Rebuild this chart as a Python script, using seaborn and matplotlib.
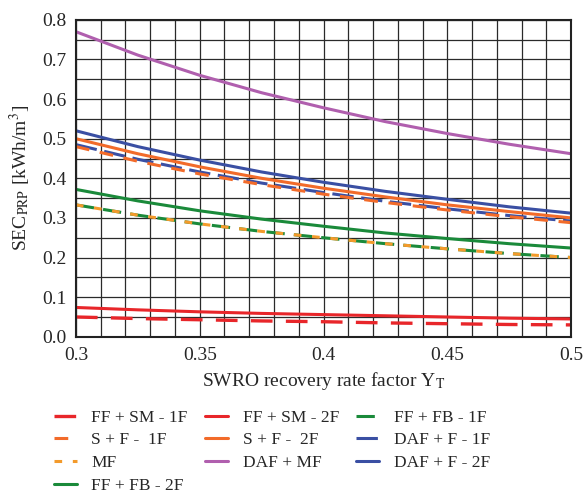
import matplotlib
matplotlib.use("Agg")
import matplotlib.pyplot as plt
import seaborn as sns
import pandas as pd
import numpy as np

x_vals = [0.30, 0.325, 0.35, 0.375, 0.40, 0.425, 0.45, 0.475, 0.50]

ff_sm_1f = [0.050, 0.046, 0.043, 0.040, 0.038, 0.035, 0.033, 0.031, 0.030]
ff_sm_2f = [0.074, 0.068, 0.063, 0.059, 0.056, 0.053, 0.050, 0.047, 0.045]
sf_1f = [0.480, 0.443, 0.411, 0.384, 0.360, 0.339, 0.320, 0.303, 0.288]
sf_2f = [0.500, 0.462, 0.429, 0.400, 0.375, 0.353, 0.333, 0.316, 0.300]
mf = [0.333, 0.307, 0.285, 0.266, 0.250, 0.235, 0.222, 0.210, 0.200]
daf_mf = [0.770, 0.711, 0.660, 0.616, 0.578, 0.543, 0.513, 0.486, 0.462]
ff_fb_1f = [0.333, 0.307, 0.285, 0.266, 0.250, 0.235, 0.222, 0.210, 0.200]
ff_fb_2f = [0.372, 0.343, 0.318, 0.297, 0.279, 0.262, 0.248, 0.235, 0.224]
daf_f_1f = [0.485, 0.448, 0.416, 0.388, 0.364, 0.342, 0.323, 0.306, 0.292]
daf_f_2f = [0.520, 0.480, 0.446, 0.416, 0.390, 0.367, 0.347, 0.328, 0.312]

labels = ["FF + SM - 1F", "S + F -  1F", "MF", "FF + FB - 2F",
          "FF + SM - 2F", "S + F -  2F", "DAF + MF",
          "FF + FB - 1F", "DAF + F - 1F", "DAF + F - 2F"]
series = [ff_sm_1f, sf_1f, mf, ff_fb_2f, ff_sm_2f, sf_2f, daf_mf, ff_fb_1f, daf_f_1f, daf_f_2f]

RED = "#e8262a"; ORG = "#f26b2a"; LOR = "#f39a2b"; GRN = "#1a8a3a"; BLU = "#3a4fa3"; PUR = "#b05fae"
styles = {
    "FF + SM - 1F": dict(color=RED, lw=2.4, dashes=(6.5, 4)),
    "FF + SM - 2F": dict(color=RED, lw=2.2, dashes=None),
    "S + F -  1F": dict(color=ORG, lw=2.2, dashes=(4.5, 3.5)),
    "S + F -  2F": dict(color=ORG, lw=2.2, dashes=None),
    "MF": dict(color=LOR, lw=2.2, dashes=(2.5, 3.5)),
    "DAF + MF": dict(color=PUR, lw=2.2, dashes=None),
    "FF + FB - 1F": dict(color=GRN, lw=2.2, dashes=(6, 3)),
    "FF + FB - 2F": dict(color=GRN, lw=2.2, dashes=None),
    "DAF + F - 1F": dict(color=BLU, lw=2.2, dashes=(7, 2.5)),
    "DAF + F - 2F": dict(color=BLU, lw=2.2, dashes=None),
}
draw_order = ["FF + SM - 2F", "FF + SM - 1F", "FF + FB - 2F", "FF + FB - 1F", "MF",
              "DAF + F - 2F", "S + F -  2F", "DAF + F - 1F", "S + F -  1F", "DAF + MF"]

rows = []
for lab, vals in zip(labels, series):
    for xv, yv in zip(x_vals, vals):
        rows.append(dict(x=xv, y=yv, series=lab))
df = pd.DataFrame(rows)

sns.set_style("white")
plt.rcParams["font.family"] = ["Liberation Serif", "DejaVu Serif"]
plt.rcParams["mathtext.fontset"] = "stix"

fig = plt.figure(figsize=(5.84, 4.96), dpi=100)
ax = fig.add_axes([0.130, 0.321, 0.848, 0.639])

# grid
ax.set_xticks(np.arange(0.30, 0.5001, 0.01), minor=True)
ax.set_yticks(np.arange(0.0, 0.8001, 0.05), minor=True)
ax.grid(which="minor", color="#2a2a2a", lw=0.9)
ax.grid(which="major", color="#2a2a2a", lw=0.9)
ax.set_axisbelow(True)

handles = {}
for lab in draw_order:
    st = styles[lab]
    sub = df[df["series"] == lab]
    sns.lineplot(data=sub, x="x", y="y", ax=ax, color=st["color"], lw=st["lw"],
                 estimator=None, sort=True, legend=False)
    line = ax.lines[-1]
    if st["dashes"] is not None:
        line.set_dashes(st["dashes"])
    handles[lab] = line

ax.set_xlim(0.3, 0.5)
ax.set_ylim(0.0, 0.8)
ax.set_xticks([0.3, 0.35, 0.4, 0.45, 0.5])
ax.set_xticklabels(["0.3", "0.35", "0.4", "0.45", "0.5"])
ax.set_yticks(np.arange(0.0, 0.81, 0.1))
ax.set_yticklabels([f"{v:.1f}" for v in np.arange(0.0, 0.81, 0.1)])
ax.tick_params(which="major", direction="out", length=4, width=1, labelsize=14, color="black", pad=3)
ax.tick_params(which="minor", length=0)
for s in ax.spines.values():
    s.set_color("#222222")
    s.set_linewidth(1.5)

ax.set_xlabel(r"SWRO recovery rate factor Y$_\mathrm{T}$", fontsize=14, labelpad=5)
ax.set_ylabel(r"SEC$_\mathrm{PRP}$ [kWh/m$^3$]", fontsize=14, labelpad=6)

leg = fig.legend([handles[l] for l in labels], labels, ncol=3, frameon=False,
                 loc="upper left", bbox_to_anchor=(0.066, 0.206), fontsize=12.5,
                 handlelength=1.3, handletextpad=0.85, columnspacing=1.0,
                 labelspacing=0.38)

fig.savefig("out.png", dpi=100)
